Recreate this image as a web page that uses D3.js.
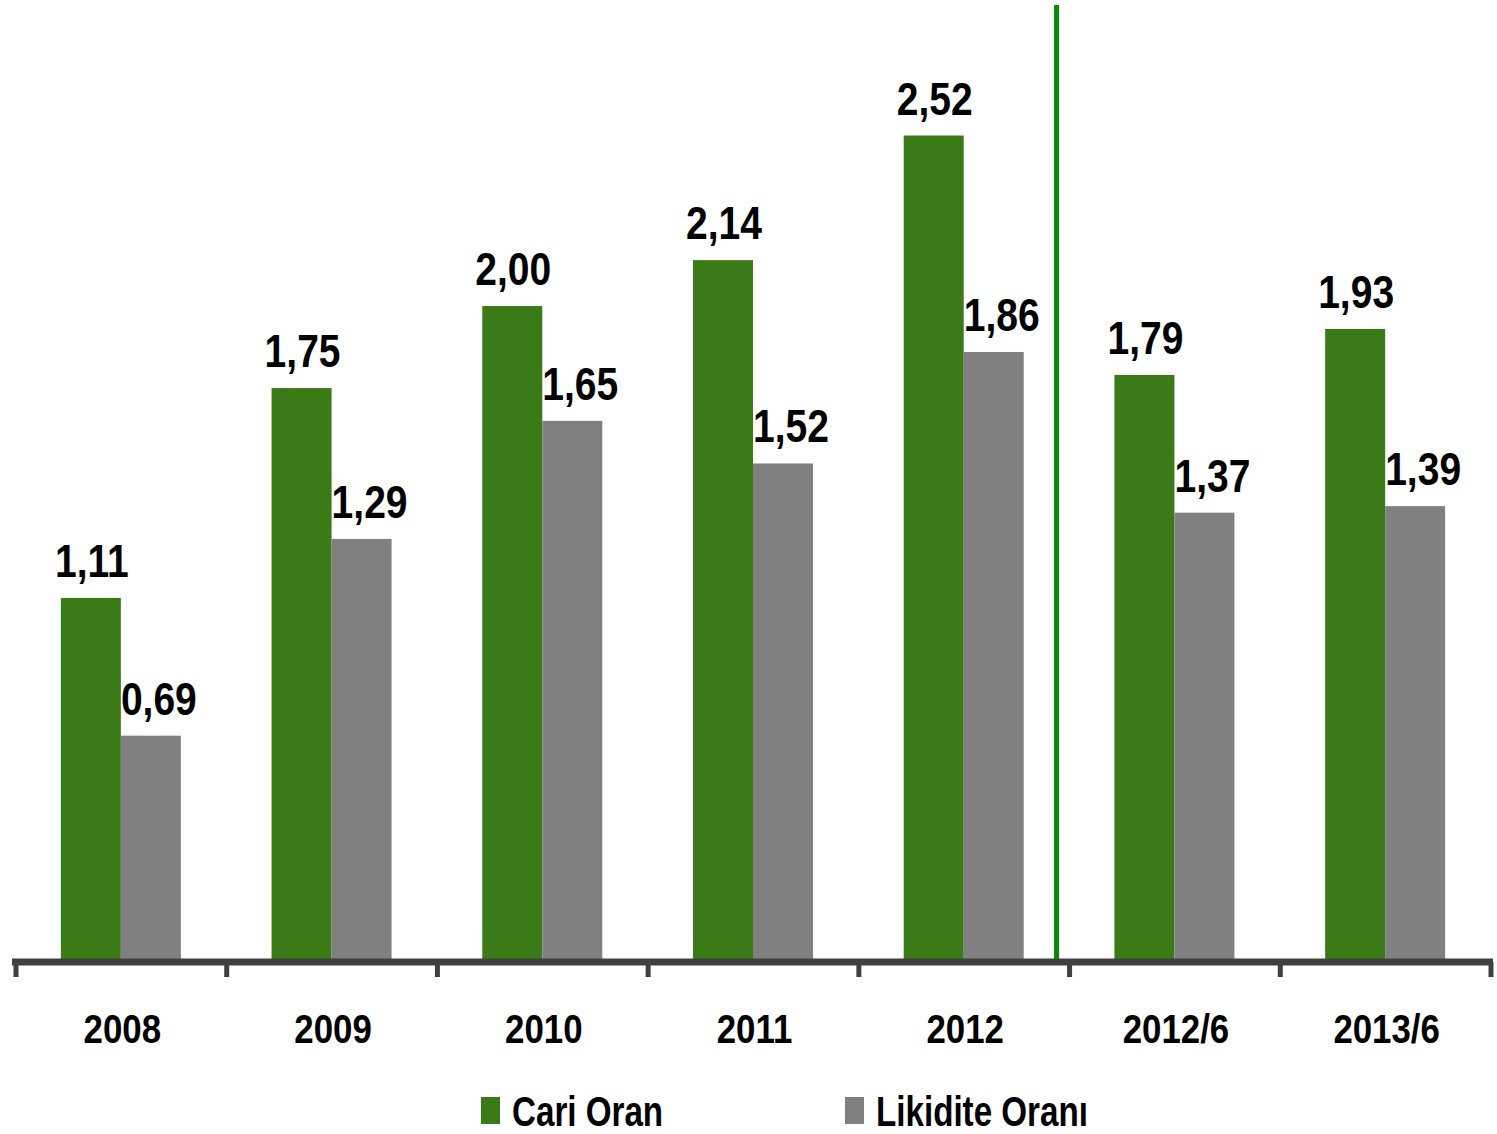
<!DOCTYPE html>
<html><head><meta charset="utf-8">
<script src="https://cdn.jsdelivr.net/npm/d3@7"></script>
<style>body{margin:0;background:#fff}</style>
</head><body>
<svg id="c" width="1497" height="1134"></svg>
<script>
const categories = ["2008","2009","2010","2011","2012","2012/6","2013/6"];
const cariOran = [1.11,1.75,2.00,2.14,2.52,1.79,1.93];
const likiditeOrani = [0.69,1.29,1.65,1.52,1.86,1.37,1.39];
const seriesNames = ["Cari Oran","Likidite Oranı"];
const seriesColors = ["#3a7a17","#808080"];
const valueLabels = ["1,11","1,75","2,00","2,14","2,52","1,79","1,93"];
const valueLabels2 = ["0,69","1,29","1,65","1,52","1,86","1,37","1,39"];

const FONT = "'Liberation Sans','Arial',sans-serif";
const svg = d3.select("#c");
const baseY = 962;
const x = d3.scaleBand().domain(categories).range([15, 1490]).padding(0);
const y = d3.scaleLinear().domain([0, 2.52]).range([baseY, 135.5]);
const barW = 60;
const x1 = d3.scaleBand().domain(seriesNames).range([-barW, barW]).padding(0);
const labelShift = [1, 8];

function narrowText(parent, tx, ty, str, size, sx, anchor) {
  parent.append("g").attr("transform", `translate(${tx},${ty}) scale(${sx},1)`)
    .append("text")
    .attr("x", 0).attr("y", 0)
    .attr("text-anchor", anchor)
    .attr("font-family", FONT)
    .attr("font-weight", "bold")
    .attr("font-size", size)
    .attr("fill", "#000")
    .text(str);
}

const data = categories.map((c,i)=>({cat:c, vals:[cariOran[i], likiditeOrani[i]], labels:[valueLabels[i], valueLabels2[i]]}));

const g = svg.append("g");
data.forEach(d=>{
  const cx = x(d.cat) + x.bandwidth()/2 + 0.5;
  seriesNames.forEach((s,j)=>{
    g.append("rect")
      .attr("x", cx + x1(s))
      .attr("y", y(d.vals[j]))
      .attr("width", x1.bandwidth())
      .attr("height", baseY - y(d.vals[j]))
      .attr("fill", seriesColors[j]);
  });
});
data.forEach(d=>{
  const cx = x(d.cat) + x.bandwidth()/2 + 0.5;
  seriesNames.forEach((s,j)=>{
    narrowText(g, cx + x1(s) + x1.bandwidth()/2 + labelShift[j], y(d.vals[j]) - 21, d.labels[j], 47, 0.83, "middle");
  });
});

// separator line
const sepX = x("2012/6") - x.bandwidth()*0.057;
svg.append("line").attr("x1", sepX).attr("x2", sepX).attr("y1", 5).attr("y2", baseY+2)
  .attr("stroke","#078a07").attr("stroke-width",5);

// axis
const axis = svg.append("g");
axis.append("line").attr("x1", 12).attr("x2", 1493).attr("y1", baseY).attr("y2", baseY)
  .attr("stroke","#404040").attr("stroke-width",7);
const tickPos = categories.map(c=>x(c)).concat([x.range()[1]]);
tickPos.forEach(t=>{
  axis.append("line").attr("x1", t+1).attr("x2", t+1).attr("y1", baseY).attr("y2", 977)
    .attr("stroke","#404040").attr("stroke-width",5);
});
categories.forEach(c=>{
  narrowText(axis, x(c) + x.bandwidth()/2 + 2, 1043, c, 41, 0.85, "middle");
});

// legend
const legX = [481, 845];
seriesNames.forEach((s,j)=>{
  const lg = svg.append("g").attr("transform", `translate(${legX[j]},0)`);
  lg.append("rect").attr("x",0).attr("y",1097).attr("width",19).attr("height",27).attr("fill",seriesColors[j]);
  narrowText(lg, 31, 1126, s, 42, 0.79, "start");
});
</script>
</body></html>
